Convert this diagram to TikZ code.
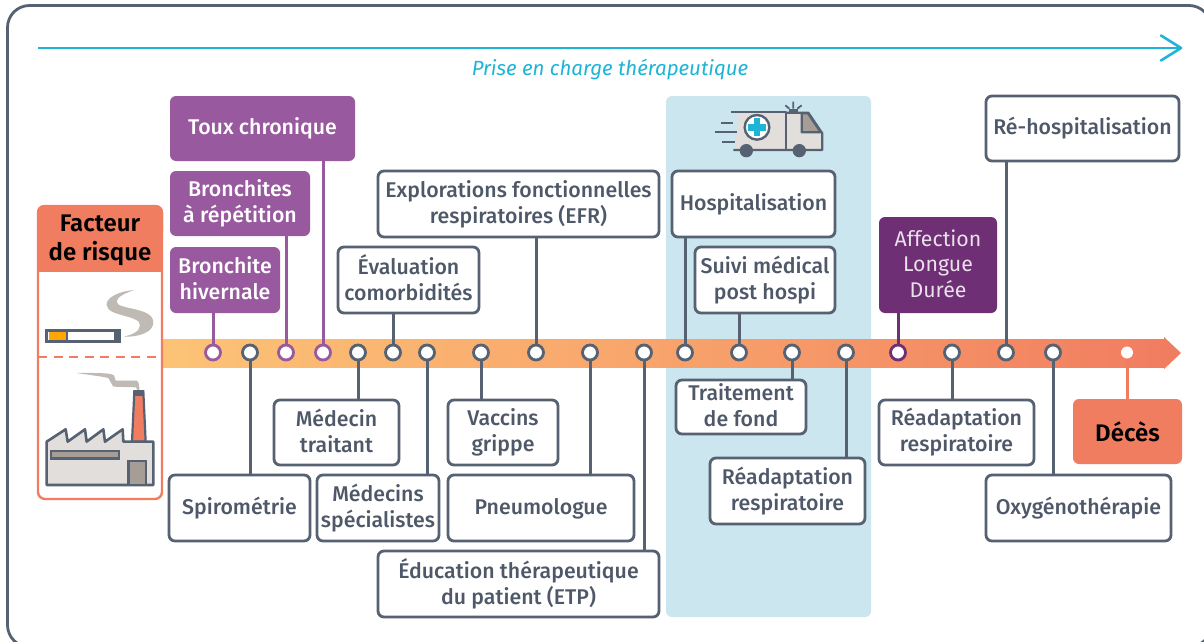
\documentclass[tikz,border=0pt]{standalone}
\usepackage{fontspec}
\setmainfont{Fira Sans Medium}[ItalicFont={Fira Sans Italic},BoldFont={Fira Sans SemiBold}]
\newfontfamily\lightf{Fira Sans}
\usetikzlibrary{shapes.misc}
\definecolor{slate}{HTML}{566172}
\definecolor{txt}{HTML}{4E5869}
\definecolor{purp}{HTML}{98599E}
\definecolor{dpurp}{HTML}{6E2F74}
\definecolor{salm}{HTML}{F17D60}
\definecolor{cyanl}{HTML}{1DB4D6}
\definecolor{panel}{HTML}{CBE6EF}
\definecolor{stone}{HTML}{E2DEDB}
\definecolor{stoned}{HTML}{A69E96}
\definecolor{smoke}{HTML}{BFBAB4}
\definecolor{orA}{HTML}{FCC376}
\definecolor{orB}{HTML}{F8A56C}
\tikzset{
 base/.style={rounded corners=6pt,align=center,inner sep=0pt,font=\fontsize{21.3}{26}\selectfont},
 wbox/.style={base,draw=slate,line width=2.8pt,fill=white,text=txt},
 pbox/.style={base,fill=purp,text=white},
 dbox/.style={base,fill=dpurp,text=white!85!dpurp,font=\fontsize{21.3}{25.5}\selectfont\lightf},
 dotg/.style={circle,draw=slate,fill=white,line width=2.8pt,minimum size=15pt,inner sep=0pt},
 dotp/.style={dotg,draw=purp},
 dotd/.style={dotg,draw=dpurp},
 dots/.style={circle,fill=white,minimum size=12pt,inner sep=0pt},
 cg/.style={draw=slate,line width=3pt},
 cp/.style={draw=purp,line width=3pt},
 cd/.style={draw=dpurp,line width=3pt},
 cs/.style={draw=salm,line width=3pt},
}
\newcommand{\bx}[7]{\node[#1,minimum width=#5pt-#3pt,minimum height=#6pt-#4pt] (#2) at ({(#3+#5)/2},{(#4+#6)/2}) {\rule{0pt}{17pt}#7\rule[-4pt]{0pt}{4pt}};}
\newcommand{\dt}[3]{\node[#1] (#2) at (#3,352.5) {};}
\begin{document}
\begin{tikzpicture}[x=1pt,y=-1pt]
\useasboundingbox (0,0) rectangle (1204,642);
\fill[white] (0,0) rectangle (1204,642);
\begin{scope}
\clip (0,0) rectangle (1204,642);
\draw[slate,line width=2.8pt,rounded corners=22pt] (7.5,5.5) rectangle (1211,647);
\end{scope}
% top arrow
\coordinate (ta) at (38,48); \coordinate (tb) at (1181,48);
\draw[cyanl,line width=2.6pt] (ta) -- (tb);
\draw[cyanl,line width=2.6pt,line join=round,line cap=round] (1161,35.5) -- (tb) -- (1161,60.5);
\node[text=cyanl,font=\fontsize{20.5}{24}\selectfont\itshape] (title) at (610,69.5) {Prise en charge thérapeutique};
% panel
\fill[panel,rounded corners=6pt] (666,96) rectangle (871,617);
% timeline
\shade[left color=orA,right color=orB] (163,339) rectangle (640,367);
\shade[left color=orB,right color=salm] (639.5,339) rectangle (1165,367);
\fill[salm] (1164,337) -- (1181,353) -- (1164,369) -- cycle;
% risk box
\draw[salm,line width=2.4pt,rounded corners=7pt,fill=white] (38,206) rectangle (162,499);
\fill[salm,rounded corners=7pt] (37,205) rectangle (163,240);
\fill[salm] (37,225) rectangle (163,272);
\node[font=\fontsize{24}{29}\selectfont\bfseries,align=center,text=black,inner sep=0pt] (risk) at (100,240) {Facteur\\de risque};
\draw[salm,line width=2.4pt,dash pattern=on 9pt off 6.5pt] (38,357) -- (162,357);
% cigarette and factory
\begin{scope}[x=.33333pt,y=-.33333pt,shift={(0,570)}]
\fill[smoke] (402,300) .. controls (350,305) and (318,325) .. (320,345) .. controls (322,380) and (420,375) .. (420,405) .. controls (420,425) and (395,435) .. (370,440) .. controls (420,442) and (462,425) .. (460,395) .. controls (456,350) and (350,360) .. (350,335) .. controls (350,320) and (380,308) .. (402,300) -- cycle;
\fill[white] (140,421) rectangle (358,454);
\draw[slate,line width=2.6pt] (140,421) rectangle (358,454);
\fill[slate] (342,421) rectangle (358,454);
\fill[orange!70!yellow] (146,427) rectangle (197,449);
\fill[slate] (197,421) rectangle (204,454);
\fill[smoke] (230,549) .. controls (290,549) and (330,548) .. (342,556) -- (347,572) -- (410,572) .. controls (417,574) and (418,590) .. (418,600) -- (412,600) -- (408,592) -- (340,590) -- (325,564) .. controls (300,558) and (260,554) .. (230,549) -- cycle;
\filldraw[fill=salm,draw=slate,line width=2.2pt] (396,755) -- (403,604) -- (430,604) -- (437,755) -- cycle;
\fill[slate] (399,602) rectangle (433,617);
\filldraw[fill=stone,draw=slate,line width=2.6pt,line join=round] (140,755) -- (197,718) -- (203,755) -- (255,718) -- (260,755) -- (310,718) -- (315,755) -- (368,718) -- (370,755) -- (460,755) -- (460,885) -- (140,885) -- cycle;
\filldraw[fill=stoned,draw=slate,line width=2.4pt] (153,783) rectangle (357,805);
\filldraw[fill=stoned,draw=slate,line width=2.4pt] (385,813) rectangle (438,885);
\end{scope}
% ambulance
\begin{scope}[x=.33333pt,y=-.33333pt,shift={(1980,270)}]
\fill[stone] (213,65) -- (378,65) -- (378,68) -- (445,68) -- (487,130) -- (487,180) -- (225,180) -- (235,70) -- cycle;
\draw[slate,line width=2.2pt,line join=round] (213,65) -- (378,65) -- (378,180);
\draw[slate,line width=2.2pt,line join=round] (378,68) -- (445,68) -- (487,130) -- (487,180) -- (220,180);
\filldraw[fill=stoned,draw=slate,line width=2.2pt,line join=round] (425,70) -- (444,70) -- (482,127) -- (425,127) -- cycle;
\filldraw[fill=white,draw=slate,line width=2.4pt] (291,112) circle[radius=37];
\fill[cyanl] (281,85) rectangle (301,139);
\fill[cyanl] (264,102) rectangle (318,122);
\fill[slate] (259,182) circle[radius=20];
\fill[slate] (418,182) circle[radius=20];
\draw[slate,line width=2.2pt] (183,98) -- (218,98) (165,125) -- (230,125) (187,155) -- (225,155);
\fill[slate] (386,65) rectangle (414,56);
\draw[slate,line width=1.8pt] (400,56) -- (400,35) (388,56) -- (376,46) (412,56) -- (425,46);
\end{scope}
% boxes
\bx{pbox}{toux}{170}{96}{355}{161}{Toux chronique}
\bx{pbox}{bronr}{170}{171}{310}{236}{Bronchites\\à répétition}
\bx{pbox}{bronh}{170}{247}{280}{313}{Bronchite\\hivernale}
\bx{wbox}{efr}{378}{171}{659}{237}{Explorations fonctionnelles\\respiratoires (EFR)}
\bx{wbox}{eval}{338}{247}{479}{313}{Évaluation\\comorbidités}
\bx{wbox}{hosp}{672}{171}{835}{237}{Hospitalisation}
\bx{wbox}{suivi}{695}{247}{835}{313}{Suivi médical\\post hospi}
\bx{dbox}{ald}{879}{217}{997}{313}{Affection\\Longue\\Durée}
\bx{wbox}{rehosp}{986}{96}{1179}{161}{Ré-hospitalisation}
\bx{wbox}{spiro}{169}{475}{310}{541}{Spirométrie}
\bx{wbox}{medt}{274}{400}{399}{465}{Médecin\\traitant}
\bx{wbox}{meds}{317}{475}{439}{541}{Médecins\\spécialistes}
\bx{wbox}{vacc}{448}{400}{558}{465}{Vaccins\\grippe}
\bx{wbox}{pneu}{448}{475}{634}{541}{Pneumologue}
\bx{wbox}{etp}{378}{551}{659}{617}{Éducation thérapeutique\\du patient (ETP)}
\bx{wbox}{trt}{676}{380}{806}{434}{Traitement\\de fond}
\bx{wbox}{rea}{710}{458}{865}{524}{Réadaptation\\respiratoire}
\bx{wbox}{reb}{879}{400}{1034}{465}{Réadaptation\\respiratoire}
\bx{wbox}{oxy}{986}{475}{1171}{541}{Oxygénothérapie}
\node[base,fill=salm,text=black,font=\fontsize{24}{26}\selectfont\bfseries,minimum width=109pt,minimum height=65pt] (deces) at (1127.5,431.5) {Décès};
% dots
\dt{dotp}{d1}{213}\dt{dotg}{d2}{250}\dt{dotp}{d3}{286}\dt{dotp}{d4}{323}
\dt{dotg}{d5}{358}\dt{dotg}{d6}{393}\dt{dotg}{d7}{427}\dt{dotg}{d8}{481}
\dt{dotg}{d9}{536}\dt{dotg}{d10}{590}\dt{dotg}{d11}{644}\dt{dotg}{d12}{685}
\dt{dotg}{d13}{739}\dt{dotg}{d14}{792}\dt{dotg}{d15}{846}\dt{dotd}{d16}{898}
\dt{dotg}{d17}{952}\dt{dotg}{d18}{1006}\dt{dotg}{d19}{1053}\dt{dots}{d20}{1127}
% connectors
\draw[cp] (d1) -- (d1 |- bronh.south);
\draw[cg] (d2) -- (d2 |- spiro.north);
\draw[cp] (d3) -- (d3 |- bronr.south);
\draw[cp] (d4) -- (d4 |- toux.south);
\draw[cg] (d5) -- (d5 |- medt.north);
\draw[cg] (d6) -- (d6 |- eval.south);
\draw[cg] (d7) -- (d7 |- meds.north);
\draw[cg] (d8) -- (d8 |- vacc.north);
\draw[cg] (d9) -- (d9 |- efr.south);
\draw[cg] (d10) -- (d10 |- pneu.north);
\draw[cg] (d11) -- (d11 |- etp.north);
\draw[cg] (d12) -- (d12 |- hosp.south);
\draw[cg] (d13) -- (d13 |- suivi.south);
\draw[cg] (d14) -- (d14 |- trt.north);
\draw[cg] (d15) -- (d15 |- rea.north);
\draw[cd] (d16) -- (d16 |- ald.south);
\draw[cg] (d17) -- (d17 |- reb.north);
\draw[cg] (d18) -- (d18 |- rehosp.south);
\draw[cg] (d19) -- (d19 |- oxy.north);
\draw[cs] (d20) -- (d20 |- deces.north);
\end{tikzpicture}
\end{document}
